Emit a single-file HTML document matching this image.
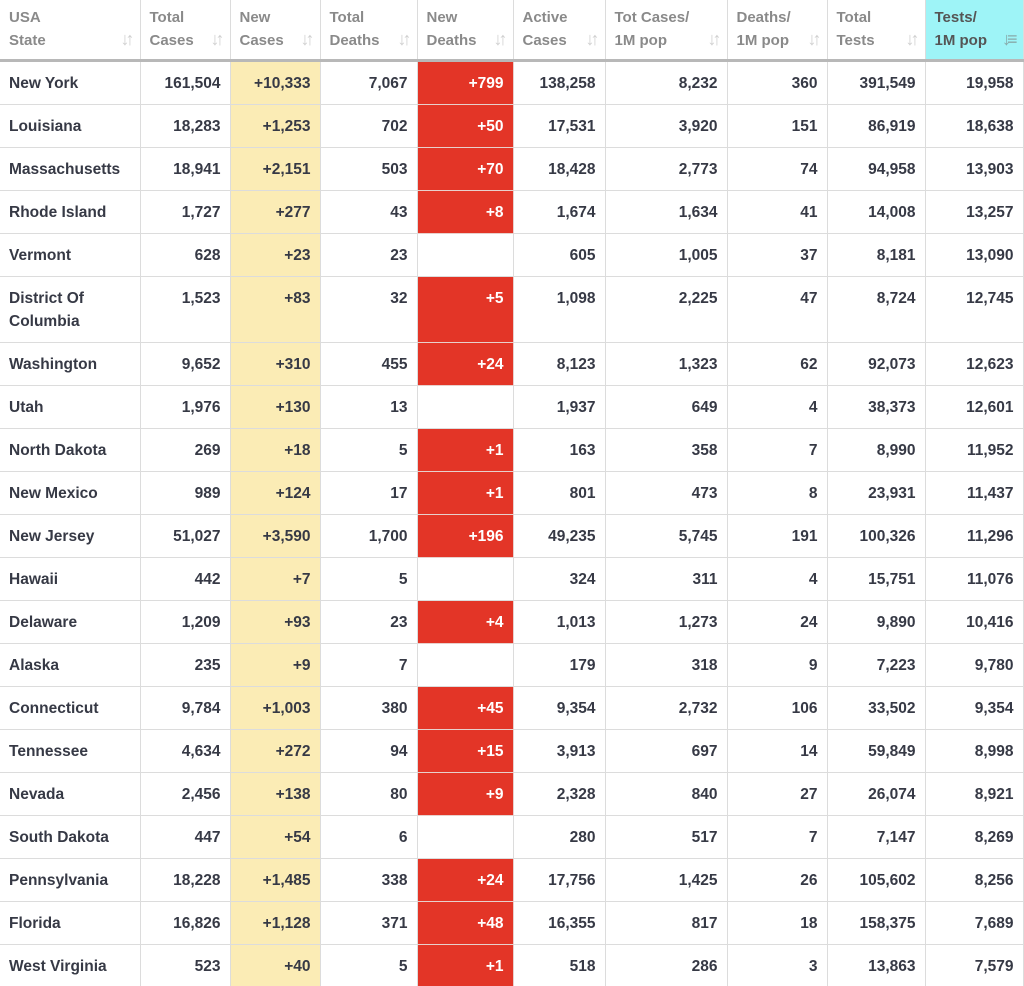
<!DOCTYPE html>
<html><head><meta charset="utf-8"><style>
html,body{margin:0;padding:0;background:#fff;width:1024px;height:986px;overflow:hidden}
table{border-collapse:collapse;table-layout:fixed;width:1023px;font-family:"Liberation Sans",Arial,sans-serif;font-weight:bold;font-size:15.5px;color:#363945}
td,th{border:1px solid #dcdcdc;padding:0 9px 0 9px;vertical-align:top;line-height:23px}
tr td:first-child,tr th:first-child{border-left:none}
th{height:53px;text-align:left;color:#8a8a8a;font-size:15px;padding-top:6px;padding-bottom:0;border-top:none;border-bottom:3px solid #b8b8b8;position:relative;font-weight:bold}
th span{position:absolute;right:9px;top:28px;color:#d0d0d0;font-size:18px;letter-spacing:-4px;font-weight:normal}
th.s{background:#9ef4f7;color:#555}
th.s span{color:#8aa}
td{height:32px;padding-top:10px;text-align:right}
td:first-child{text-align:left}
td.y{background:#fbecb5}
td.r{background:#e33527;color:#fff;border-color:#e8d0cc}
tr.t td{height:55px}
</style></head><body>
<table>
<colgroup><col style="width:140px"><col style="width:90px"><col style="width:90px"><col style="width:97px"><col style="width:96px"><col style="width:92px"><col style="width:122px"><col style="width:100px"><col style="width:98px"><col style="width:98px"></colgroup>
<tr><th>USA<br>State<span>↓↑</span></th><th>Total<br>Cases<span>↓↑</span></th><th>New<br>Cases<span>↓↑</span></th><th>Total<br>Deaths<span>↓↑</span></th><th>New<br>Deaths<span>↓↑</span></th><th>Active<br>Cases<span>↓↑</span></th><th>Tot Cases/<br>1M pop<span>↓↑</span></th><th>Deaths/<br>1M pop<span>↓↑</span></th><th>Total<br>Tests<span>↓↑</span></th><th class="s">Tests/<br>1M pop<span>↓≡</span></th></tr>
<tr><td>New York</td><td>161,504</td><td class="y">+10,333</td><td>7,067</td><td class="r">+799</td><td>138,258</td><td>8,232</td><td>360</td><td>391,549</td><td>19,958</td></tr>
<tr><td>Louisiana</td><td>18,283</td><td class="y">+1,253</td><td>702</td><td class="r">+50</td><td>17,531</td><td>3,920</td><td>151</td><td>86,919</td><td>18,638</td></tr>
<tr><td>Massachusetts</td><td>18,941</td><td class="y">+2,151</td><td>503</td><td class="r">+70</td><td>18,428</td><td>2,773</td><td>74</td><td>94,958</td><td>13,903</td></tr>
<tr><td>Rhode Island</td><td>1,727</td><td class="y">+277</td><td>43</td><td class="r">+8</td><td>1,674</td><td>1,634</td><td>41</td><td>14,008</td><td>13,257</td></tr>
<tr><td>Vermont</td><td>628</td><td class="y">+23</td><td>23</td><td></td><td>605</td><td>1,005</td><td>37</td><td>8,181</td><td>13,090</td></tr>
<tr class="t"><td>District Of<br>Columbia</td><td>1,523</td><td class="y">+83</td><td>32</td><td class="r">+5</td><td>1,098</td><td>2,225</td><td>47</td><td>8,724</td><td>12,745</td></tr>
<tr><td>Washington</td><td>9,652</td><td class="y">+310</td><td>455</td><td class="r">+24</td><td>8,123</td><td>1,323</td><td>62</td><td>92,073</td><td>12,623</td></tr>
<tr><td>Utah</td><td>1,976</td><td class="y">+130</td><td>13</td><td></td><td>1,937</td><td>649</td><td>4</td><td>38,373</td><td>12,601</td></tr>
<tr><td>North Dakota</td><td>269</td><td class="y">+18</td><td>5</td><td class="r">+1</td><td>163</td><td>358</td><td>7</td><td>8,990</td><td>11,952</td></tr>
<tr><td>New Mexico</td><td>989</td><td class="y">+124</td><td>17</td><td class="r">+1</td><td>801</td><td>473</td><td>8</td><td>23,931</td><td>11,437</td></tr>
<tr><td>New Jersey</td><td>51,027</td><td class="y">+3,590</td><td>1,700</td><td class="r">+196</td><td>49,235</td><td>5,745</td><td>191</td><td>100,326</td><td>11,296</td></tr>
<tr><td>Hawaii</td><td>442</td><td class="y">+7</td><td>5</td><td></td><td>324</td><td>311</td><td>4</td><td>15,751</td><td>11,076</td></tr>
<tr><td>Delaware</td><td>1,209</td><td class="y">+93</td><td>23</td><td class="r">+4</td><td>1,013</td><td>1,273</td><td>24</td><td>9,890</td><td>10,416</td></tr>
<tr><td>Alaska</td><td>235</td><td class="y">+9</td><td>7</td><td></td><td>179</td><td>318</td><td>9</td><td>7,223</td><td>9,780</td></tr>
<tr><td>Connecticut</td><td>9,784</td><td class="y">+1,003</td><td>380</td><td class="r">+45</td><td>9,354</td><td>2,732</td><td>106</td><td>33,502</td><td>9,354</td></tr>
<tr><td>Tennessee</td><td>4,634</td><td class="y">+272</td><td>94</td><td class="r">+15</td><td>3,913</td><td>697</td><td>14</td><td>59,849</td><td>8,998</td></tr>
<tr><td>Nevada</td><td>2,456</td><td class="y">+138</td><td>80</td><td class="r">+9</td><td>2,328</td><td>840</td><td>27</td><td>26,074</td><td>8,921</td></tr>
<tr><td>South Dakota</td><td>447</td><td class="y">+54</td><td>6</td><td></td><td>280</td><td>517</td><td>7</td><td>7,147</td><td>8,269</td></tr>
<tr><td>Pennsylvania</td><td>18,228</td><td class="y">+1,485</td><td>338</td><td class="r">+24</td><td>17,756</td><td>1,425</td><td>26</td><td>105,602</td><td>8,256</td></tr>
<tr><td>Florida</td><td>16,826</td><td class="y">+1,128</td><td>371</td><td class="r">+48</td><td>16,355</td><td>817</td><td>18</td><td>158,375</td><td>7,689</td></tr>
<tr><td>West Virginia</td><td>523</td><td class="y">+40</td><td>5</td><td class="r">+1</td><td>518</td><td>286</td><td>3</td><td>13,863</td><td>7,579</td></tr>
</table>
</body></html>
